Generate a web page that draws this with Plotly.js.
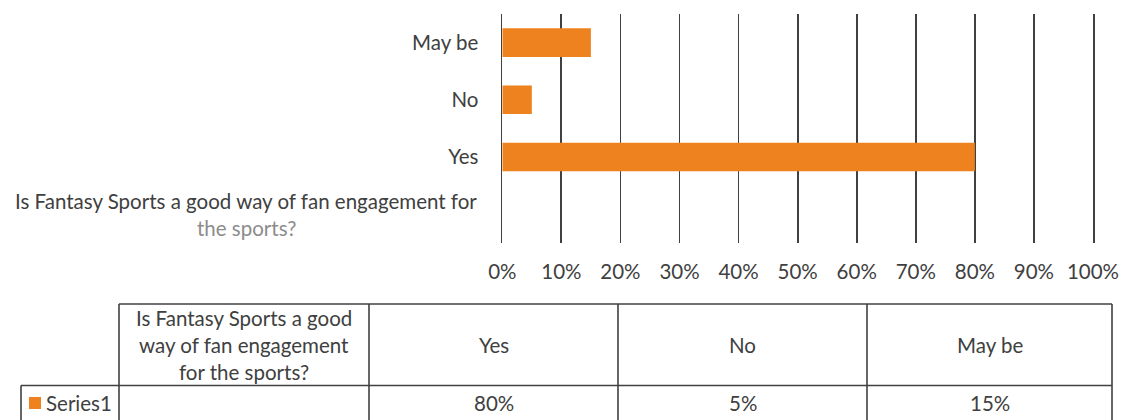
<!DOCTYPE html>
<html>
<head>
<meta charset="utf-8">
<script src="https://cdn.plot.ly/plotly-3.0.1.min.js"></script>
<style>
html, body { margin: 0; padding: 0; background: #fff; }
#chart { width: 1128px; height: 420px; }
</style>
</head>
<body>
<div id="chart"></div>
<script>
var categories = ['Is Fantasy Sports a good way of fan engagement for the sports?', 'Yes', 'No', 'May be'];
var series1 = [null, 0.80, 0.05, 0.15];
var seriesName = 'Series1';

var W = 1128, H = 420;
var ink = '#404040';
var orange = '#EE821E';
var font = {family: 'Lato, sans-serif', size: 20.5, color: ink};

function px(x) { return x / W; }
function py(y) { return 1 - y / H; }

// simple word wrap, Excel-ish
function wrap(s, n) {
    var words = s.split(' ');
    var lines = [];
    var cur = '';
    words.forEach(function (w) {
        if (cur && (cur + ' ' + w).length > n) {
            lines.push(cur);
            cur = w;
        } else {
            cur = cur ? cur + ' ' + w : w;
        }
    });
    if (cur) lines.push(cur);
    return lines;
}

var trace1 = {
    x: series1,
    y: categories,
    name: seriesName,
    type: 'bar',
    orientation: 'h',
    width: 0.5,
    marker: {color: orange},
    hoverinfo: 'x+y'
};

var shapes = [];
var annotations = [];

// long category label on the y axis, drawn as centred lines
var longLabel = wrap(categories[0], 51);
longLabel.forEach(function (line, i) {
    annotations.push({
        xref: 'paper', yref: 'paper',
        x: px(246), y: py(201 + i * 27),
        xanchor: 'center', yanchor: 'middle',
        text: line, showarrow: false,
        font: {family: font.family, size: font.size, color: i === 0 ? ink : '#8c8c8c'}
    });
});

// data table under the chart
var colEdges = [119, 369, 618, 867, 1112];
var tTop = 304, tMid = 385.5, tBot = 430;

function line(x0, y0, x1, y1) {
    shapes.push({
        type: 'line', xref: 'paper', yref: 'paper',
        x0: px(x0), y0: py(y0), x1: px(x1), y1: py(y1),
        line: {color: ink, width: 1.6}
    });
}

line(colEdges[0], tTop, colEdges[4], tTop);
line(21, tMid, colEdges[4], tMid);
line(21, tMid, 21, tBot);
colEdges.forEach(function (x) { line(x, tTop, x, tBot); });

categories.forEach(function (c, i) {
    var cx = (colEdges[i] + colEdges[i + 1]) / 2;
    var lines = wrap(c, 24);
    var y0 = 344.5 - (lines.length - 1) * 27 / 2;
    lines.forEach(function (l, j) {
        annotations.push({
            xref: 'paper', yref: 'paper',
            x: px(cx), y: py(y0 + j * 27),
            xanchor: 'center', yanchor: 'middle',
            text: l, showarrow: false, font: font
        });
    });
    if (series1[i] !== null) {
        annotations.push({
            xref: 'paper', yref: 'paper',
            x: px(cx), y: py(403),
            xanchor: 'center', yanchor: 'middle',
            text: Math.round(series1[i] * 100) + '%', showarrow: false, font: font
        });
    }
});

// legend key in the table
shapes.push({
    type: 'rect', xref: 'paper', yref: 'paper',
    x0: px(29), y0: py(409), x1: px(41), y1: py(397),
    fillcolor: orange, line: {width: 0}
});
annotations.push({
    xref: 'paper', yref: 'paper',
    x: px(44), y: py(403),
    xanchor: 'left', yanchor: 'middle',
    text: seriesName, showarrow: false, font: font
});

var data = [trace1];

var layout = {
    width: W,
    height: H,
    margin: {l: 0, r: 0, t: 0, b: 0},
    paper_bgcolor: '#fff',
    plot_bgcolor: '#fff',
    showlegend: false,
    font: font,
    xaxis: {
        domain: [px(502.3), px(1093)],
        range: [0, 1],
        dtick: 0.1,
        tickformat: '.0%',
        showgrid: true,
        gridcolor: ink,
        gridwidth: 1.8,
        zeroline: false,
        showline: false,
        ticks: '',
        ticklabelstandoff: 15,
        tickfont: font,
        fixedrange: true
    },
    yaxis: {
        domain: [py(242.7), py(14)],
        type: 'category',
        categoryorder: 'array',
        categoryarray: categories,
        tickvals: categories,
        ticktext: categories.map(function (c, i) { return i === 0 ? '' : c; }),
        range: [-0.5, 3.5],
        showgrid: false,
        zeroline: false,
        // left and right lines stand in for the 0% and 100% gridlines
        showline: true,
        mirror: true,
        linecolor: ink,
        linewidth: 1.8,
        ticks: '',
        ticklabelstandoff: 18,
        tickfont: font,
        fixedrange: true
    },
    shapes: shapes,
    annotations: annotations
};

Plotly.newPlot('chart', data, layout, {displayModeBar: false, staticPlot: true});
</script>
</body>
</html>
